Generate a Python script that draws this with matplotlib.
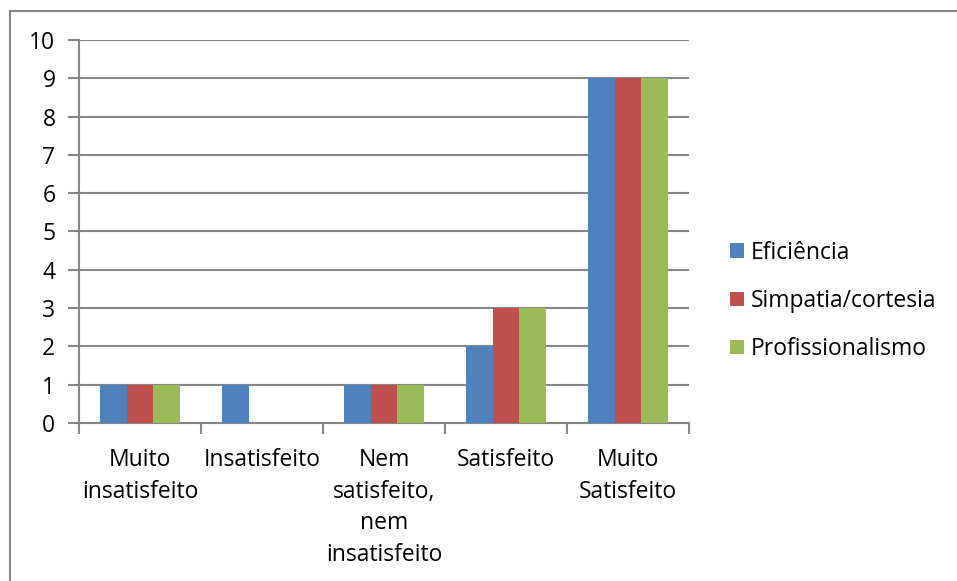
import matplotlib
matplotlib.use("Agg")
import matplotlib.pyplot as plt
import numpy as np
from matplotlib.patches import Rectangle

categories = ["Muito\ninsatisfeito", "Insatisfeito", "Nem\nsatisfeito,\nnem\ninsatisfeito", "Satisfeito", "Muito\nSatisfeito"]
series_names = ["Eficiência", "Simpatia/cortesia", "Profissionalismo"]
eficiencia = [1, 1, 1, 2, 9]
simpatia = [1, 0, 1, 3, 9]
profissionalismo = [1, 0, 1, 3, 9]
colors = ["#4F81BD", "#C0504D", "#9BBB59"]

plt.rcParams['font.family'] = ['Open Sans', 'DejaVu Sans']
FS = 16.5

W, H = 957, 581
fig = plt.figure(figsize=(W/100, H/100), dpi=100)
ax = fig.add_axes([79/W, 1-423/H, (689-79)/W, (423-40)/H])

x = np.arange(len(categories))
bw = 0.22
for i, (vals, name) in enumerate(zip([eficiencia, simpatia, profissionalismo], series_names)):
    ax.bar(x + (i-1)*bw, vals, width=bw, color=colors[i], label=name, zorder=3)

ax.set_xlim(-0.5, 4.5)
ax.set_ylim(0, 10)
ax.set_yticks(range(0, 11))
ax.yaxis.grid(True, color="#868686", linewidth=1.5, zorder=0)
ax.set_xticks(np.arange(-0.5, 5.0, 1.0))
ax.set_xticklabels([])
ax.set_xticks(x, minor=True)
ax.set_xticklabels(categories, minor=True, fontsize=FS, linespacing=1.43)
ax.tick_params(axis='x', which='minor', length=0, pad=18)
ax.tick_params(axis='x', which='major', length=8, width=1.5, color="#868686")
ax.tick_params(axis='y', length=8, width=1.5, color="#868686", labelsize=FS, pad=9)
for s in ['top', 'right']:
    ax.spines[s].set_visible(False)
for s in ['left', 'bottom']:
    ax.spines[s].set_color("#868686")
    ax.spines[s].set_linewidth(1.5)

leg = fig.legend(loc='center left', bbox_to_anchor=(709/W, 1-301/H), frameon=False,
                 fontsize=FS, handlelength=0.62, handleheight=0.62, handletextpad=0.3,
                 labelspacing=1.05)

fig.patches.append(Rectangle((10/W, -0.1), 1.2, 1.1 - 11/H, transform=fig.transFigure,
                             fill=False, edgecolor="#868686", linewidth=1.5))

fig.savefig("out.png", dpi=100)
